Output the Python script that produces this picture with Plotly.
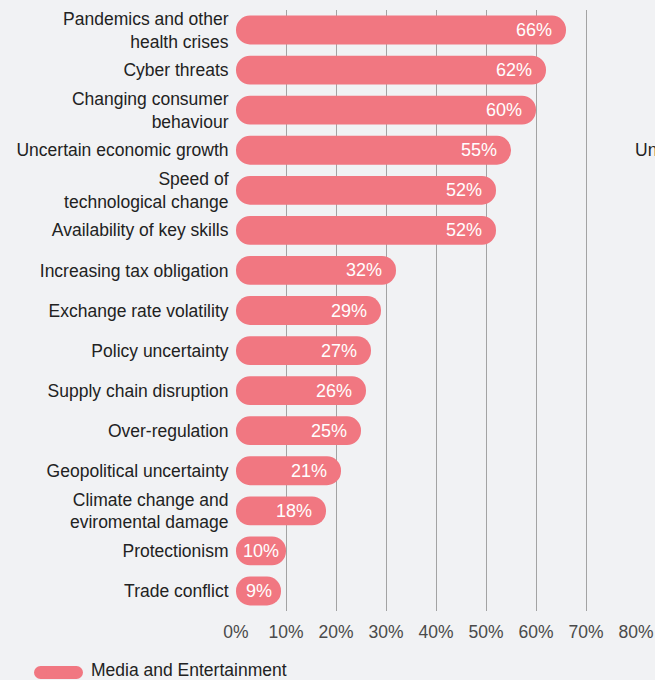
import plotly.graph_objects as go

# Share of Media and Entertainment CEOs concerned about each threat (%)
categories = [
    "Pandemics and other<br>health crises",
    "Cyber threats",
    "Changing consumer<br>behaviour",
    "Uncertain economic growth",
    "Speed of<br>technological change",
    "Availability of key skills",
    "Increasing tax obligation",
    "Exchange rate volatility",
    "Policy uncertainty",
    "Supply chain disruption",
    "Over-regulation",
    "Geopolitical uncertainty",
    "Climate change and<br>eviromental damage",
    "Protectionism",
    "Trade conflict",
]
values = [66, 62, 60, 55, 52, 52, 32, 29, 27, 26, 25, 21, 18, 10, 9]
tick_values = [0, 10, 20, 30, 40, 50, 60, 70, 80]
tick_labels = [f"{t}%" for t in tick_values]
series_name = "Media and Entertainment"
neighbour_label = "Uncertain economic growth"

BAR = "#f17781"
BG = "#f1f2f4"
FONT = "Liberation Sans, Arial, Helvetica, sans-serif"

fig = go.Figure()

# Pill-shaped bars: with an explicit base both ends get the corner radius
fig.add_trace(go.Bar(
    y=categories, x=values, base=[0] * len(values),
    orientation="h", width=0.72,
    marker=dict(color=BAR, line=dict(width=0), cornerradius="50%"),
    name=series_name, showlegend=False, hoverinfo="skip",
))

# Value labels near the bar ends; short bars get their label centred
for cat, v in zip(categories, values):
    fig.add_annotation(
        x=max(v - 6.5, v / 2), y=cat, xref="x", yref="y", text=f"{v}%",
        showarrow=False, xanchor="center", yanchor="middle",
        font=dict(family=FONT, size=18, color="white"),
    )

# Plot-area geometry (pixels) used for legend placement in paper units
L, R, T, B = 236, 19, 10, 69
W, H = 655, 680
pw, ph = W - L - R, H - T - B

def px_x(x):
    return (x - L) / pw

def px_y(y):
    return (H - B - y) / ph

# Legend: pill swatch plus label
lx0, lx1, ly = 34, 83, 672.5
r = 6.5
shapes = [
    dict(type="rect", xref="paper", yref="paper",
         x0=px_x(lx0 + r), x1=px_x(lx1 - r), y0=px_y(ly + r), y1=px_y(ly - r),
         fillcolor=BAR, line=dict(width=0), layer="above"),
    dict(type="circle", xref="paper", yref="paper",
         x0=px_x(lx0), x1=px_x(lx0 + 2 * r), y0=px_y(ly + r), y1=px_y(ly - r),
         fillcolor=BAR, line=dict(width=0), layer="above"),
    dict(type="circle", xref="paper", yref="paper",
         x0=px_x(lx1 - 2 * r), x1=px_x(lx1), y0=px_y(ly + r), y1=px_y(ly - r),
         fillcolor=BAR, line=dict(width=0), layer="above"),
]
fig.add_annotation(
    x=px_x(89), y=px_y(670), xref="paper", yref="paper", text=series_name,
    showarrow=False, xanchor="left", yanchor="middle",
    font=dict(family=FONT, size=17.5, color="#222222"),
)

# Edge of the adjacent panel's label
fig.add_annotation(
    x=px_x(633), y="Uncertain economic growth", xref="paper", yref="y",
    text=neighbour_label, showarrow=False, xanchor="left", yanchor="middle",
    font=dict(family=FONT, size=17.5, color="#222222"),
)

fig.update_layout(
    width=W, height=H,
    margin=dict(l=L, r=R, t=T, b=B, pad=0, autoexpand=False),
    paper_bgcolor=BG, plot_bgcolor=BG,
    barmode="overlay",
    showlegend=False,
    shapes=shapes,
    font=dict(family=FONT, size=17.5, color="#222222"),
    xaxis=dict(
        range=[0, 80], tickvals=tick_values, ticktext=tick_labels,
        showgrid=True, gridcolor="#a3a3a3", gridwidth=1,
        zeroline=False, showline=False,
        ticks="outside", ticklen=5, tickcolor="rgba(0,0,0,0)",
        tickfont=dict(family=FONT, size=17.5, color="#4a4a4a"),
        automargin=False, fixedrange=True,
    ),
    yaxis=dict(
        categoryorder="array", categoryarray=categories,
        range=[14.5, -0.5],
        showgrid=False, zeroline=False, showline=False,
        ticks="outside", ticklen=3, tickcolor="rgba(0,0,0,0)",
        tickfont=dict(family=FONT, size=17.5, color="#222222"),
        automargin=False, fixedrange=True,
    ),
)

fig.write_html("out.html")
